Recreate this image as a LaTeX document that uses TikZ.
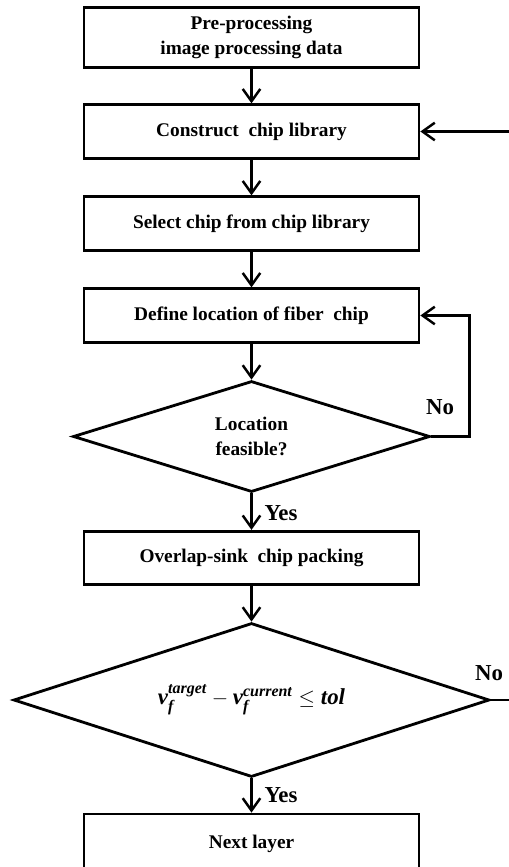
\documentclass[tikz,border=0pt]{standalone}
\usepackage{amsmath}
\usepackage{fontspec}
\setmainfont{Liberation Serif}
\usetikzlibrary{shapes.geometric,arrows.meta}
\newcommand{\bi}[1]{\text{\bfseries\itshape #1}}
\tikzset{
  stepbox/.style={draw, line width=1.6pt, minimum width=6.7cm, minimum height=1.07cm,
    inner sep=0pt, align=center, font=\fontsize{11}{14.5}\selectfont\bfseries},
  decision/.style={draw, diamond, aspect=3.2, line width=1.6pt, inner sep=0pt, align=center,
    font=\fontsize{11}{14}\selectfont\bfseries},
  arr/.style={line width=1.6pt, -{Straight Barb[length=7pt,width=10pt,line width=1.4pt]}},
  lbl/.style={font=\fontsize{13}{15}\selectfont\bfseries, inner sep=0pt}
}
\begin{document}
\begin{tikzpicture}[x=0.02cm, y=-0.02cm]
                    \useasboundingbox (0,0) rectangle (509,867);
                    % Boxes
                    \node[stepbox, minimum height=1.2cm] (pre) at (251.5,37.5)
                       {Pre-processing\\image processing data};
                    \node[stepbox] (lib) at (251.5,131.5) {Construct\ \ chip library};
                    \node[stepbox] (sel) at (251.5,223.5) {Select chip from chip library};
                    \node[stepbox] (loc) at (251.5,315.5) {Define location of fiber\ \ chip};
                    \node[decision, minimum width=7.14cm, minimum height=2.22cm] (feas) at (251.5,436.5)
                       {Location\\feasible?};
                    \node[stepbox] (pack) at (251.5,558) {Overlap-sink\ \ chip packing};
                    \node[decision, minimum width=9.52cm, minimum height=3.08cm,
                          font=\fontsize{13}{15}\selectfont\bfseries] (tol) at (251.5,700)
                       {$\bi{ν}_{\bi{f}}^{\bi{target}}-\bi{ν}_{\bi{f}}^{\bi{current}}\le\bi{tol}$};
                    \node[stepbox, minimum height=1.2cm] (next) at (251.5,844) {Next layer};
                    % Flow
                    \draw[arr] (pre) -- (lib);
                    \draw[arr] (lib) -- (sel);
                    \draw[arr] (sel) -- (loc);
                    \draw[arr] (loc) -- (feas);
                    \draw[arr] (feas) -- (pack);
                    \draw[arr] (pack) -- (tol);
                    \draw[arr] (tol) -- (next);
                    % Loops
                    \draw[arr] (feas.east) -- ++(38,0) |- (loc.east);
                    \draw[arr] (tol.east) -- ++(40,0) |- (lib.east);
                    % Labels
                    \node[lbl] (no1) at (440,407) {No};
                    \node[lbl] (yes1) at (281,513) {Yes};
                    \node[lbl] (no2) at (489,673) {No};
                    \node[lbl] (yes2) at (281,795) {Yes};
\end{tikzpicture}
\end{document}
